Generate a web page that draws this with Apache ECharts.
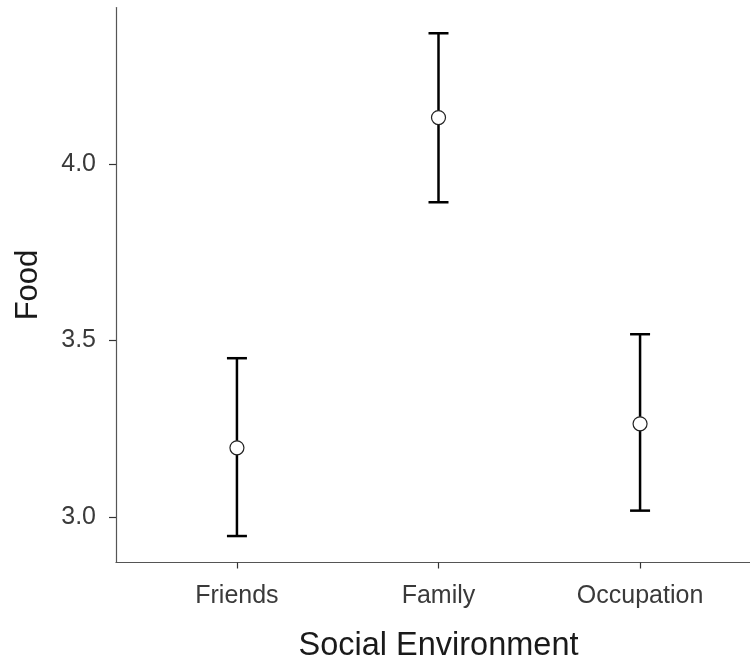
<!DOCTYPE html>
<html>
<head>
<meta charset="utf-8">
<style>
  html, body { margin: 0; padding: 0; background: #ffffff; }
  #chart { width: 750px; height: 659px; }
</style>
<script src="https://cdn.jsdelivr.net/npm/echarts@6/dist/echarts.min.js"></script>
</head>
<body>
<div id="chart"></div>
<script>
// Mean Food score by social environment, with interval bounds
const categories = ['Friends', 'Family', 'Occupation'];
const means = [3.196, 4.132, 3.264];
const lowerBounds = [2.946, 3.892, 3.018];
const upperBounds = [3.450, 4.371, 3.518];
const yTickValues = [3.0, 3.5, 4.0];

const positions = categories.map((_, i) => i + 1);
const barData = positions.map((x, i) => [x, lowerBounds[i], upperBounds[i]]);
const pointData = positions.map((x, i) => [x, means[i]]);

const chart = echarts.init(document.getElementById('chart'), null, { renderer: 'canvas' });

const fontFamily = '"Liberation Sans", Arial, sans-serif';

chart.setOption({
  animation: false,
  backgroundColor: '#ffffff',
  grid: { left: 116, top: 7.5, width: 645, height: 555, containLabel: false, outerBoundsMode: 'none' },
  xAxis: {
    type: 'value',
    min: 0.4,
    max: 3.6,
    splitLine: { show: false },
    axisLine: { show: true, lineStyle: { color: '#555555', width: 1.2 } },
    axisTick: { show: true, customValues: positions, length: 6, lineStyle: { color: '#333333', width: 1.2 } },
    axisLabel: {
      customValues: positions,
      margin: 21,
      color: '#3a3a3a',
      fontFamily: fontFamily,
      fontSize: 25,
      formatter: v => categories[Math.round(v) - 1] || ''
    },
    name: 'Social Environment',
    nameLocation: 'middle',
    nameGap: 67,
    nameTextStyle: { color: '#1a1a1a', fontFamily: fontFamily, fontSize: 32.5 }
  },
  yAxis: {
    type: 'value',
    min: 2.871,
    max: 4.444,
    splitLine: { show: false },
    axisLine: { show: true, lineStyle: { color: '#555555', width: 1.2 } },
    axisTick: { show: true, customValues: yTickValues, length: 7, lineStyle: { color: '#333333', width: 1.2 } },
    axisLabel: {
      customValues: yTickValues,
      margin: 20,
      color: '#3a3a3a',
      fontFamily: fontFamily,
      fontSize: 25,
      formatter: v => v.toFixed(1)
    },
    name: 'Food',
    nameLocation: 'middle',
    nameRotate: 90,
    nameGap: 72,
    nameTextStyle: { color: '#1a1a1a', fontFamily: fontFamily, fontSize: 31 }
  },
  series: [
    {
      type: 'custom',
      data: barData,
      encode: { x: 0, y: [1, 2] },
      renderItem: function (params, api) {
        const x = api.value(0);
        const lo = api.coord([x, api.value(1)]);
        const hi = api.coord([x, api.value(2)]);
        const half = 10;
        const style = { stroke: '#000000', lineWidth: 2.5 };
        return {
          type: 'group',
          children: [
            { type: 'line', shape: { x1: lo[0], y1: lo[1], x2: hi[0], y2: hi[1] }, style: style },
            { type: 'line', shape: { x1: hi[0] - half, y1: hi[1], x2: hi[0] + half, y2: hi[1] }, style: style },
            { type: 'line', shape: { x1: lo[0] - half, y1: lo[1], x2: lo[0] + half, y2: lo[1] }, style: style }
          ]
        };
      },
      z: 2
    },
    {
      type: 'scatter',
      data: pointData,
      symbol: 'circle',
      symbolSize: 14,
      itemStyle: { color: '#ffffff', borderColor: '#222222', borderWidth: 1.2, opacity: 1 },
      emphasis: { disabled: true },
      z: 3
    }
  ]
});
</script>
</body>
</html>
